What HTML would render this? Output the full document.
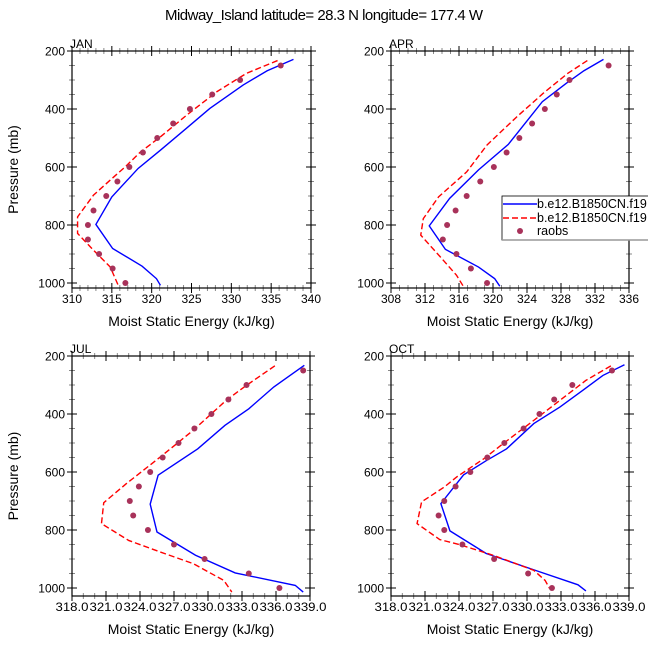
<!DOCTYPE html>
<html><head><meta charset="utf-8"><style>
html,body{margin:0;padding:0;background:#fff;}
svg{display:block;font-family:"Liberation Sans",sans-serif;}
</style></head><body>
<svg id="chart" width="648" height="649" viewBox="0 0 648 649">
<text x="324" y="20" font-size="15" text-anchor="middle" textLength="318" lengthAdjust="spacing" fill="#000">Midway_Island  latitude= 28.3 N longitude= 177.4 W</text>
</svg>
<script>
// ---- data ----
const panelNames = ["JAN","APR","JUL","OCT"];
const xMins = [310,308,318,318];
const xMaxs = [340,336,339,339];
const xSteps = [5,4,3,3];
const yTicks = [200,400,600,800,1000];
const obsPressure = [250,300,350,400,450,500,550,600,650,700,750,800,850,900,950,1000];

const janBlueP = [229,268,317,398,461,542,605,703,798,881,942,985,1008];
const janBlueV = [337.8,334.5,331.5,327.3,324.6,321.1,318.3,315.0,313.0,315.1,318.8,320.6,321.1];
const janRedP = [233,277,340,421,496,548,599,645,697,772,829,887,945,1008];
const janRedV = [335.8,331.9,328.2,324.4,321.1,318.6,316.7,314.8,312.7,310.7,310.7,312.7,314.8,315.8];
const janObsV = [336.2,331.1,327.6,324.8,322.7,320.7,318.9,317.2,315.7,314.3,312.7,312.0,312.0,313.4,315.1,316.7];

const aprBlueP = [229,268,312,375,522,610,708,803,884,945,985,1011];
const aprBlueV = [333.0,330.7,328.6,325.8,321.8,318.3,314.9,312.5,314.4,318.3,320.2,320.8];
const aprRedP = [233,277,346,427,524,617,703,778,835,910,973,1011];
const aprRedV = [331.1,328.8,325.9,322.8,319.3,316.9,313.6,311.8,311.5,313.8,315.7,316.5];
const aprObsV = [333.6,329.0,327.5,326.1,324.6,323.1,321.6,320.1,318.5,316.9,315.6,314.6,314.1,315.7,317.4,319.3];

const julBlueP = [232,307,382,439,520,611,711,807,887,948,991,1014];
const julBlueV = [338.5,335.8,333.6,331.5,329.1,325.6,324.9,325.5,328.9,332.4,337.7,338.4];
const julRedP = [234,301,353,456,548,640,706,778,836,876,916,974,1014];
const julRedV = [335.9,333.4,331.6,328.7,325.8,322.8,320.8,320.6,323.0,325.8,328.7,331.4,332.1];
const julObsV = [338.4,333.4,331.8,330.3,328.8,327.4,326.0,324.9,323.9,323.1,323.4,324.7,327.0,329.7,333.6,336.3];

const octBlueP = [230,267,316,376,433,520,561,610,709,803,881,944,989,1010];
const octBlueV = [338.6,336.7,335.0,332.9,330.6,328.2,326.4,324.4,322.4,323.2,326.4,331.1,334.5,335.2];
const octRedP = [234,284,353,422,502,554,617,652,703,778,833,851,887,939,974,1002];
const octRedV = [337.4,335.2,332.9,330.6,327.9,326.2,323.8,322.7,320.7,320.3,322.3,324.1,327.0,330.6,331.6,332.0];
const octObsV = [337.5,334.0,332.4,331.1,329.7,328.0,326.5,325.0,323.7,322.7,322.2,322.7,324.3,327.1,330.1,332.2];

const blueP=[janBlueP,aprBlueP,julBlueP,octBlueP], blueV=[janBlueV,aprBlueV,julBlueV,octBlueV];
const redP=[janRedP,aprRedP,julRedP,octRedP], redV=[janRedV,aprRedV,julRedV,octRedV];
const obsV=[janObsV,aprObsV,julObsV,octObsV];

// ---- layout ----
const boxes=[{l:72,r:311,t:51,b:288,y1000:283},{l:391,r:629,t:51,b:288,y1000:283},
             {l:72,r:310,t:356,b:596,y1000:588},{l:391,r:629,t:356,b:596,y1000:588}];
const NS="http://www.w3.org/2000/svg";
const svg=document.getElementById("chart");
function mk(tag,attrs,parent){const e=document.createElementNS(NS,tag);for(const k in attrs)e.setAttribute(k,attrs[k]);(parent||svg).appendChild(e);return e;}

for(let i=0;i<4;i++){
  const B=boxes[i];
  const g=mk("g",{});
  
  
  const xs=v=>B.l+(v-xMins[i])/(xMaxs[i]-xMins[i])*(B.r-B.l);
  const ys=p=>B.t+(p-200)/800*(B.y1000-B.t);
  const cid="clip"+i;
  const cp=mk("clipPath",{id:cid},g);mk("rect",{x:B.l,y:B.t,width:B.r-B.l,height:B.b-B.t},cp);
  for(let v=xMins[i];v<=xMaxs[i]+1e-9;v+=1){
    const major=Math.abs(((v-xMins[i])%xSteps[i]))<1e-9;
    const len=major?5:3, x=xs(v), col=major?"#000":"#888";
    const t1=mk("line",{x1:x,x2:x,y1:B.b-len,y2:B.b+len,stroke:col,"stroke-width":1},g);
    
    
    mk("line",{x1:x,x2:x,y1:B.t-len,y2:B.t+len,stroke:col,"stroke-width":1},g);
    if(major){
      const lab=i<2?String(v):v.toFixed(1);
      const attrs={x:x,y:B.b+15,"font-size":12,"text-anchor":"middle",fill:"#000"};
      if(i>=2){attrs.textLength=33;attrs.lengthAdjust="spacingAndGlyphs";}
      const tx=mk("text",attrs,g);
      tx.textContent=lab;
      
      
    }
  }
  for(let p=200;p<=1000;p+=50){
    const major=p%200===0, len=major?5:3, y=ys(p), col=major?"#000":"#888";
    const t2=mk("line",{x1:B.l-len,x2:B.l+len,y1:y,y2:y,stroke:col},g);
    
    
    mk("line",{x1:B.r-len,x2:B.r+len,y1:y,y2:y,stroke:col},g);
  }
  yTicks.forEach(p=>{
    const tx=mk("text",{x:B.l-7,y:ys(p)+4.5,"font-size":12,"text-anchor":"end",fill:"#000"},g);
    tx.textContent=p;
    
    
  });
  const fr=mk("rect",{x:B.l,y:B.t,width:B.r-B.l,height:B.b-B.t,fill:"none",stroke:"#000","stroke-width":1.2},g);
  
  
  const pn=mk("text",{x:B.l-2,y:B.t-3,"font-size":12,fill:"#000"},g);
  pn.textContent=panelNames[i];
  
  
  const xt=mk("text",{x:(B.l+B.r)/2,y:B.b+38,"font-size":14,"text-anchor":"middle",fill:"#000"},g);
  xt.textContent="Moist Static Energy (kJ/kg)";
  
  
  if(i%2===0){
    const cy=(B.t+B.b)/2;
    const yt=mk("text",{x:18,y:cy,"font-size":14,"text-anchor":"middle",fill:"#000",transform:"rotate(-90 18 "+cy+")"},g);
    yt.textContent="Pressure (mb)";
    
    
  }
  const pb=blueV[i].map((v,k)=>xs(v)+","+ys(blueP[i][k])).join(" ");
  const bl=mk("polyline",{points:pb,fill:"none",stroke:"#0000ff","stroke-width":1.4,"clip-path":"url(#"+cid+")"},g);
  
  
  const pr=redV[i].map((v,k)=>xs(v)+","+ys(redP[i][k])).join(" ");
  const rl=mk("polyline",{points:pr,fill:"none",stroke:"#ff0000","stroke-width":1.4,"stroke-dasharray":"6,3","clip-path":"url(#"+cid+")"},g);
  
  
  obsV[i].forEach((v,k)=>{
    const c=mk("circle",{cx:xs(v),cy:ys(obsPressure[k]),r:3,fill:"#a8325a"},g);
    
    
  });
}
const lg=mk("g",{});


mk("rect",{x:502,y:196,width:150,height:44,fill:"#fff",stroke:"#000","stroke-width":0.8},lg);
mk("line",{x1:502,x2:648,y1:240,y2:240,stroke:"#999","stroke-width":1.5},lg);
const e1=mk("line",{x1:503,x2:537,y1:204,y2:204,stroke:"#0000ff","stroke-width":1.4},lg);


const e2=mk("line",{x1:503,x2:537,y1:218,y2:218,stroke:"#ff0000","stroke-width":1.4,"stroke-dasharray":"6,3"},lg);


const e3=mk("circle",{cx:520,cy:231,r:3,fill:"#a8325a"},lg);


[["b.e12.B1850CN.f19",208],["b.e12.B1850CN.f19",222],["raobs",235]].forEach(([t,y])=>{
  const tx=mk("text",{x:537,y:y,"font-size":12.5,fill:"#000"},lg);
  tx.textContent=t;
  
  
});
</script>
</body></html>
